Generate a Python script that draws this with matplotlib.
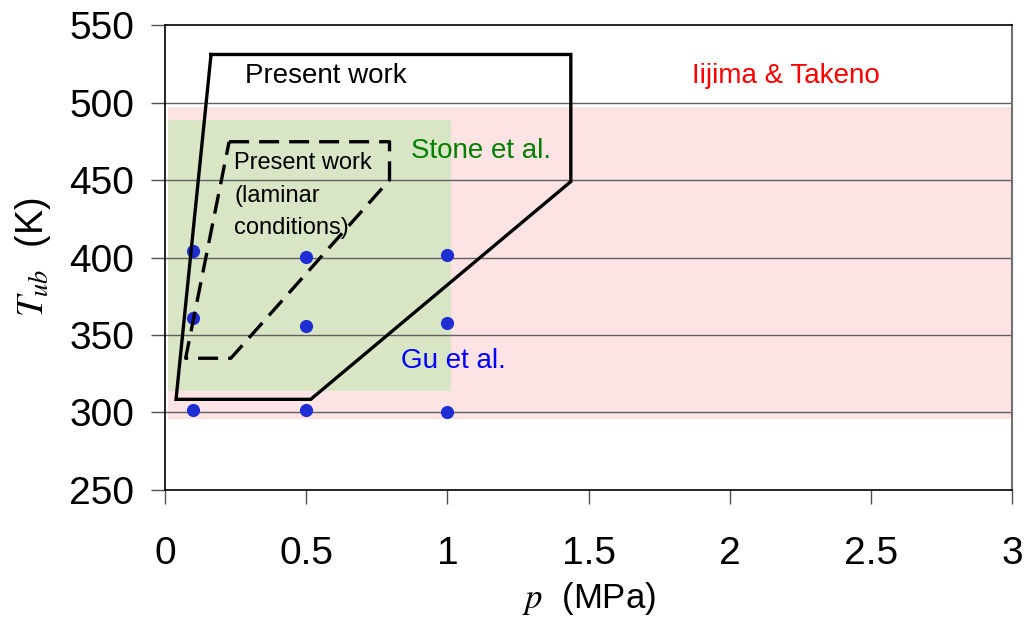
import matplotlib
matplotlib.use("Agg")
import matplotlib.pyplot as plt
from matplotlib.patches import Rectangle

plt.rcParams['font.family'] = ['Liberation Sans Narrow', 'Liberation Sans', 'DejaVu Sans']
plt.rcParams['mathtext.fontset'] = 'stix'

# Gu et al. measurement points
gu_p = [0.1, 0.5, 1.0, 0.1, 0.5, 1.0, 0.1, 0.5, 1.0]
gu_T = [404, 400.5, 401.5, 361, 355.5, 358, 301.5, 301.5, 300]

# present work envelopes (p, T)
present_p = [0.163, 1.437, 1.437, 0.516, 0.039, 0.163]
present_T = [531, 531, 449, 308.5, 308.5, 531]
laminar_p = [0.227, 0.795, 0.795, 0.233, 0.073, 0.227]
laminar_T = [474.7, 474.7, 450, 335, 335, 474.7]

# literature ranges: (p_min, p_max, T_min, T_max)
iijima_range = (0.012, 3.0, 295.5, 497.3)
stone_range = (0.012, 1.013, 314, 488.7)

xticks = [0, 0.5, 1, 1.5, 2, 2.5, 3]
xticklabels = ['0', '0.5', '1', '1.5', '2', '2.5', '3']
yticks = [250, 300, 350, 400, 450, 500, 550]

fig = plt.figure(figsize=(10.25, 6.32), dpi=100)
ax = fig.add_axes([0.161, 0.2247, 0.8265, 0.7357])

p0, p1, t0, t1 = iijima_range
ax.add_patch(Rectangle((p0, t0), p1 - p0, t1 - t0, facecolor='#fde3e3', edgecolor='none', zorder=0))
p0, p1, t0, t1 = stone_range
ax.add_patch(Rectangle((p0, t0), p1 - p0, t1 - t0, facecolor='#d9e6c5', edgecolor='none', zorder=1))

for y in yticks[1:-1]:
    ax.axhline(y, color='#606060', lw=1.0, zorder=2)

ax.plot(present_p, present_T, color='black', lw=2.4, zorder=4, solid_joinstyle='miter')
ax.plot(laminar_p, laminar_T, color='black', lw=2.4, ls=(0, (6, 3)), zorder=4)
ax.plot(gu_p, gu_T, 'o', color='#1f2ed2', ms=9.5, mec='none', zorder=3)

ax.text(0.57, 517, 'Present work', fontsize=20, ha='center', va='center', zorder=5)
ax.text(2.2, 517, 'Iijima & Takeno', fontsize=20, color='#ff0000', ha='center', va='center')
ax.text(1.12, 469, 'Stone et al.', fontsize=20, color='#008000', ha='center', va='center')
ax.text(1.02, 333, 'Gu et al.', fontsize=20, color='#0000ff', ha='center', va='center')
ax.text(0.245, 440, 'Present work\n(laminar\nconditions)', fontsize=17, ha='left', va='center',
        linespacing=1.6, zorder=5)

ax.set_xlim(0, 3)
ax.set_ylim(250, 550)
ax.set_xticks(xticks)
ax.set_xticklabels(xticklabels)
ax.set_yticks(yticks)
ax.tick_params(axis='both', labelsize=28, length=10, width=1, color='#505050', direction='out', pad=12)
ax.tick_params(axis='x', pad=23)

for s in ['left', 'bottom', 'top']:
    ax.spines[s].set_color('black')
    ax.spines[s].set_linewidth(1.2)
ax.spines['right'].set_color('#707070')
ax.spines['right'].set_linewidth(1.5)

ax.set_xlabel('$p$  (MPa)', fontsize=25, labelpad=6)
ax.set_ylabel('$T_{ub}$  (K)', fontsize=27, labelpad=12)

fig.savefig('out.png', dpi=100)
